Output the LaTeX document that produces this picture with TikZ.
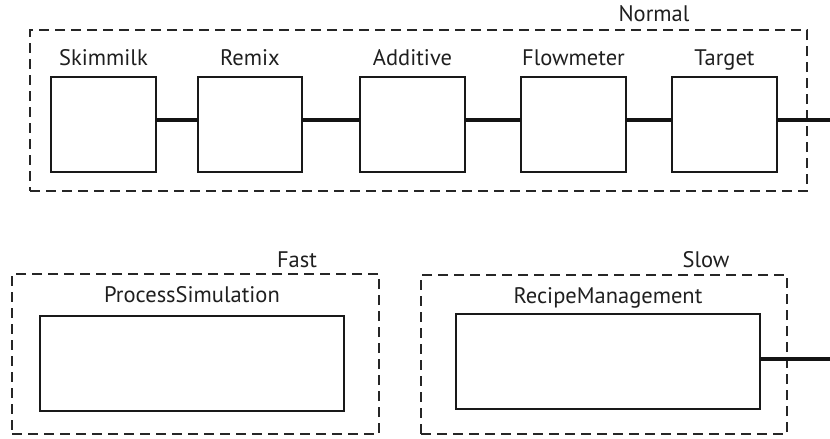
\documentclass[tikz,border=0pt]{standalone}
\usepackage{fontspec}
\setmainfont{PT Sans}
\begin{document}
\begin{tikzpicture}[x=1pt,y=-1pt,
  blk/.style={draw=black!90, line width=1.8pt, fill=white, inner sep=0pt, outer sep=0pt, anchor=north west},
  frame/.style={draw=black!85, line width=1.8pt, dash pattern=on 10pt off 6pt, inner sep=0pt, outer sep=0pt, anchor=north west},
  lbl/.style={font=\fontsize{22.5}{26}\selectfont, text=black!88, inner sep=0pt, anchor=base},
  conn/.style={line width=4.2pt, draw=black!92}]
\useasboundingbox (0,0) rectangle (830,439);

% dashed groups
\node[frame, minimum width=777pt, minimum height=161pt] (normal) at (30,30) {};
\node[frame, minimum width=367pt, minimum height=160pt] (fast) at (12,274) {};
\node[frame, minimum width=366pt, minimum height=159pt] (slow) at (421,275) {};

% group titles
\node[lbl] (normalT) at (654,21) {Normal};
\node[lbl] (fastT) at (297,267) {Fast};
\node[lbl] (slowT) at (706,267) {Slow};

% chain of blocks
\node[blk, minimum width=105pt, minimum height=95pt] (skim) at (51,77) {};
\node[blk, minimum width=104pt, minimum height=95pt] (remix) at (198,77) {};
\node[blk, minimum width=105pt, minimum height=95pt] (add) at (360,77) {};
\node[blk, minimum width=105pt, minimum height=95pt] (flow) at (521,77) {};
\node[blk, minimum width=105pt, minimum height=95pt] (target) at (672,77) {};

\foreach \n/\t in {skim/Skimmilk, remix/Remix, add/Additive, flow/Flowmeter, target/Target}
  \node[lbl] (\n T) at ([yshift=12pt]\n.north) {\t};

% lower blocks
\node[blk, minimum width=304pt, minimum height=95pt] (proc) at (40,316) {};
\node[blk, minimum width=304pt, minimum height=95pt] (recipe) at (456,314) {};
\node[lbl] (procT) at ([yshift=14pt]proc.north) {ProcessSimulation};
\node[lbl] (recipeT) at ([yshift=11pt]recipe.north) {RecipeManagement};

% connectors
\coordinate (outA) at (830,120);
\coordinate (outB) at (830,359);
\draw[conn] ([yshift=4.5pt]skim.east) -- ([yshift=4.5pt]remix.west);
\draw[conn] ([yshift=4.5pt]remix.east) -- ([yshift=4.5pt]add.west);
\draw[conn] ([yshift=4.5pt]add.east) -- ([yshift=4.5pt]flow.west);
\draw[conn] ([yshift=4.5pt]flow.east) -- ([yshift=4.5pt]target.west);
\draw[conn] ([yshift=4.5pt]target.east) -- (outA);
\draw[conn] ([yshift=2.5pt]recipe.east) -- (outB);
\end{tikzpicture}
\end{document}
